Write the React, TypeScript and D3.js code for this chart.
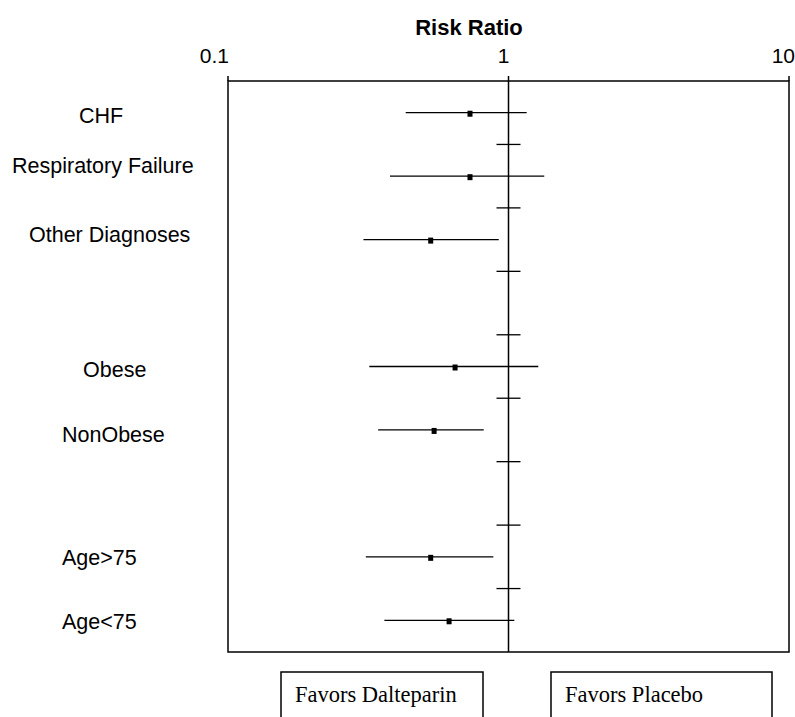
import React, { useEffect, useRef } from "react";
import * as d3 from "d3";

// subgroups, in the order they appear (gaps separate the groups)
const rows = ["CHF", "Respiratory Failure", "Other Diagnoses", "gap1", "Obese", "NonObese", "gap2", "Age>75", "Age<75"];
const labels = ["CHF", "Respiratory Failure", "Other Diagnoses", "Obese", "NonObese", "Age>75", "Age<75"];
const riskRatio = [0.729, 0.729, 0.528, 0.645, 0.543, 0.528, 0.614];
const lower = [0.43, 0.378, 0.304, 0.319, 0.343, 0.31, 0.361];
const upper = [1.161, 1.341, 0.923, 1.277, 0.816, 0.883, 1.049];
const tickValues = [0.1, 1, 10];
const tickLabels = ["0.1", "1", "10"];
const favors = ["Favors Dalteparin", "Favors Placebo"];

// label placement, the original labels are not aligned
const labelLeft = [79, 12, 29, 83, 62, 62, 62];
const labelDy = [10, -3, 2, 10, 12, 8, 9];

export default function App() {
    const ref = useRef<SVGSVGElement>(null);

    useEffect(() => {
        const W = 795, H = 717;
        const left = 228, right = 789, top = 81, bottom = 652;

        const svg = d3.select(ref.current);
        svg.selectAll("*").remove();

        const x = d3.scaleLog().domain([0.1, 10]).range([left, right]);
        const y = d3.scaleBand().domain(rows).range([top, bottom]);
        const cy = (name: string) => (y(name) as number) + y.bandwidth() / 2;

        // title
        svg.append("text")
            .attr("x", 469)
            .attr("y", 35)
            .attr("text-anchor", "middle")
            .style("font-family", "'Liberation Sans', Arial, sans-serif")
            .style("font-weight", "bold")
            .style("font-size", "22px")
            .text("Risk Ratio");

        // top axis labels + ticks
        svg.selectAll(".tlabel")
            .data(tickValues)
            .join("text")
            .attr("class", "tlabel")
            .attr("x", (d, i) => (i === tickValues.length - 1 ? W : x(d) + 1))
            .attr("y", 63)
            .attr("text-anchor", "end")
            .style("font-family", "'Liberation Sans', Arial, sans-serif")
            .style("font-size", "21px")
            .text((d, i) => tickLabels[i]);

        svg.selectAll(".tick")
            .data(tickValues)
            .join("line")
            .attr("class", "tick")
            .attr("x1", d => x(d))
            .attr("x2", d => x(d))
            .attr("y1", top - 5)
            .attr("y2", top)
            .attr("stroke", "#000")
            .attr("stroke-width", 1.5);

        // plot frame
        svg.append("rect")
            .attr("x", left)
            .attr("y", top)
            .attr("width", right - left)
            .attr("height", bottom - top)
            .attr("fill", "none")
            .attr("stroke", "#000")
            .attr("stroke-width", 1.5);

        // reference line at 1
        svg.append("line")
            .attr("x1", x(1))
            .attr("x2", x(1))
            .attr("y1", top)
            .attr("y2", bottom)
            .attr("stroke", "#000")
            .attr("stroke-width", 1.5);

        // small ticks on the reference line between rows
        svg.selectAll(".rtick")
            .data(rows.slice(1))
            .join("line")
            .attr("class", "rtick")
            .attr("x1", x(1) - 12)
            .attr("x2", x(1) + 12)
            .attr("y1", d => y(d) as number)
            .attr("y2", d => y(d) as number)
            .attr("stroke", "#000")
            .attr("stroke-width", 1.3);

        // confidence intervals
        svg.selectAll(".ci")
            .data(labels)
            .join("line")
            .attr("class", "ci")
            .attr("x1", (d, i) => x(lower[i]))
            .attr("x2", (d, i) => x(upper[i]))
            .attr("y1", d => cy(d))
            .attr("y2", d => cy(d))
            .attr("stroke", "#000")
            .attr("stroke-width", 1.3);

        // point estimates
        svg.selectAll(".pt")
            .data(labels)
            .join("rect")
            .attr("class", "pt")
            .attr("x", (d, i) => x(riskRatio[i]) - 2.5)
            .attr("y", d => cy(d) - 2)
            .attr("width", 5)
            .attr("height", 6)
            .attr("fill", "#000");

        // row labels
        svg.selectAll(".rlabel")
            .data(labels)
            .join("text")
            .attr("class", "rlabel")
            .attr("x", (d, i) => labelLeft[i])
            .attr("y", (d, i) => cy(d) + labelDy[i])
            .style("font-family", "'Liberation Sans', Arial, sans-serif")
            .style("font-size", "21.5px")
            .text(d => d);

        // "favors" boxes below the plot
        const boxes = [
            { x0: 281, x1: 483 },
            { x0: 551, x1: 772 },
        ];
        const fb = svg.selectAll(".fav")
            .data(favors)
            .join("g")
            .attr("class", "fav");
        fb.append("rect")
            .attr("x", (d, i) => boxes[i].x0)
            .attr("y", 672)
            .attr("width", (d, i) => boxes[i].x1 - boxes[i].x0)
            .attr("height", 80)
            .attr("fill", "none")
            .attr("stroke", "#000")
            .attr("stroke-width", 1.5);
        fb.append("text")
            .attr("x", (d, i) => boxes[i].x0 + 14)
            .attr("y", 702)
            .style("font-family", "'Liberation Serif', 'Times New Roman', serif")
            .style("font-size", "22.5px")
            .text(d => d);

        svg.attr("width", W).attr("height", H);
    }, []);

    return (
        <svg
            ref={ref}
            width={795}
            height={717}
            style={{ position: "absolute", left: 0, top: 0, background: "#fff" }}
        />
    );
}
